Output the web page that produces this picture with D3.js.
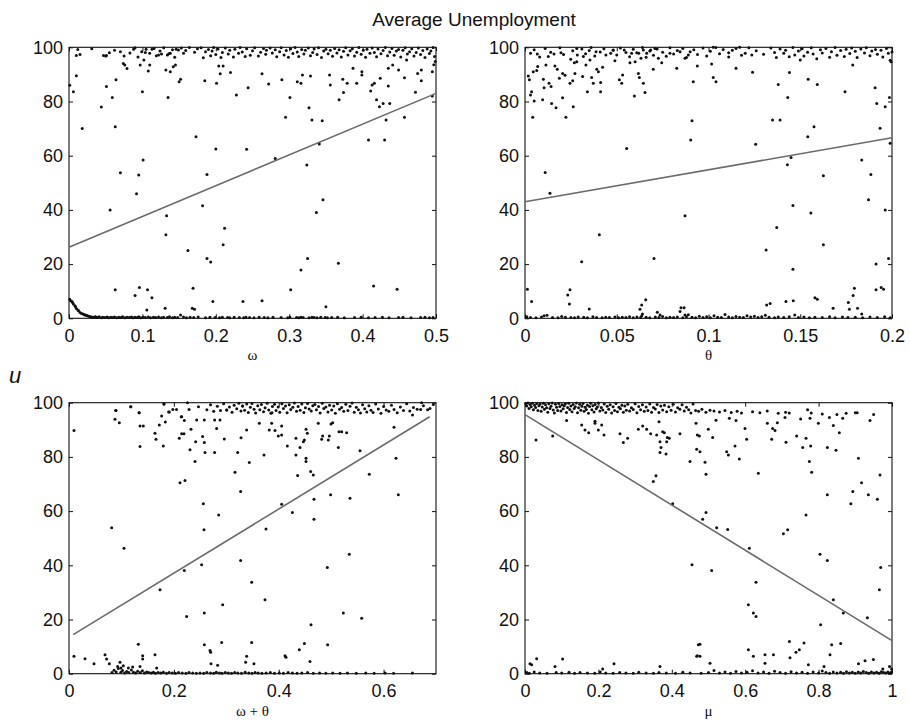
<!DOCTYPE html>
<html>
<head>
<meta charset="utf-8">
<script src="https://cdn.jsdelivr.net/npm/d3@7"></script>
<style>
  body { margin: 0; background: #fff; }
  svg { display: block; }
</style>
</head>
<body>
<svg id="fig" width="910" height="727"></svg>
<script>
// ---- tick values ----
const yTicks = [0, 20, 40, 60, 80, 100];
const omegaTicks = [0, 0.1, 0.2, 0.3, 0.4, 0.5];
const thetaTicks = [0, 0.05, 0.1, 0.15, 0.2];
const sumTicks = [0, 0.2, 0.4, 0.6];
const muTicks = [0, 0.2, 0.4, 0.6, 0.8, 1];

// ---- fitted lines: [x, u] at each end ----
const omegaFit = [[0, 26.2], [0.5, 83.0]];
const thetaFit = [[0, 43.0], [0.2, 66.6]];
const sumFit = [[0.008, 14.4], [0.688, 94.8]];
const muFit = [[0, 95.6], [1, 12.2]];

// ---- omega: [omega, u] ----
const omegaPts = [[0.001,86],[0.006,83.6],[0.01,89.5],[0.01,97],[0.015,97.3],[0.018,70],[0.044,78],[0.047,97],[0.051,97],[0.051,85.5],[0.055,98],[0.059,81.5],[0.063,70.7],[0.064,88],[0.056,40],[0.07,53.7],[0.07,98.4],[0.075,96.8],[0.076,93.5],[0.079,92.2],[0.074,94],[0.088,99.3],[0.097,93.5],[0.099,98.4],[0.1,83.6],[0.102,95.3],[0.105,99.3],[0.108,91.3],[0.11,97.8],[0.11,93.5],[0.113,99.3],[0.101,58.4],[0.095,52.9],[0.092,46],[0.122,97.2],[0.126,97.5],[0.132,91.6],[0.134,97.2],[0.135,81.5],[0.138,91],[0.138,97.8],[0.142,92.8],[0.145,93.5],[0.146,99.3],[0.149,99],[0.15,87.3],[0.152,88.2],[0.156,97.8],[0.133,37.8],[0.132,30.8],[0.162,25],[0.173,67],[0.182,41.5],[0.188,53.1],[0.188,22.1],[0.193,20.8],[0.2,62.5],[0.185,87.7],[0.201,86.7],[0.206,90.2],[0.21,93.1],[0.204,93.1],[0.212,33.2],[0.21,27.1],[0.196,6.2],[0.22,90.7],[0.228,82.4],[0.237,6.2],[0.242,62.4],[0.244,85.1],[0.263,90.2],[0.263,6.5],[0.272,86.5],[0.281,59],
  [0.063,10.5],[0.09,8.4],[0.096,11.4],[0.107,10.5],[0.113,7.6],[0.106,3.1],[0.131,3.7],[0.169,11.1],[0.168,3.7],[0.171,3.3],[0.152,1.2],
  [0.29,88],[0.295,74.2],[0.301,81.5],[0.302,10.5],[0.311,87.3],[0.316,86.7],[0.316,17.8],[0.318,89.8],[0.324,56.6],[0.325,22.1],[0.327,77.7],[0.329,89.4],[0.331,73.2],[0.337,39],[0.341,64.3],[0.345,72.9],[0.346,43.7],[0.35,4.3],[0.355,89.8],[0.356,86.1],[0.368,80.6],[0.367,20.3],[0.373,88.2],[0.374,83.3],[0.379,86.7],[0.387,92.3],[0.392,86.7],[0.399,91],[0.399,89.8],[0.408,65.8],[0.411,83.9],[0.413,86.1],[0.415,11.9],[0.416,86.7],[0.419,80.6],[0.423,78.1],[0.424,88.6],[0.428,79.3],[0.43,65.8],[0.432,73.2],[0.435,85.7],[0.435,92.3],[0.437,79.3],[0.441,93.5],[0.447,10.7],[0.449,91.6],[0.457,88.8],[0.457,74.2],[0.46,95.3],[0.472,83.4],[0.475,90.3],[0.48,91.6],[0.48,87.7],[0.495,91],[0.495,82]];
const omegaTop = [[0.012,99.2],[0.031,99.5],[0.05,96.8],[0.062,98.9],[0.083,97.9],[0.09,99.8],[0.094,96.4],[0.104,98.1],[0.116,99.6],[0.119,96.9],[0.124,98.6],[0.129,99.8],[0.136,97.6],[0.141,99.1],[0.144,96.3],[0.153,99.7],[0.159,98.8],[0.164,99.9],[0.171,98.2],[0.175,99.5],[0.18,99.8],[0.183,96.1],[0.186,98.4],[0.19,99.2],[0.193,96.9],[0.195,98.6],[0.197,99.9],[0.2,97.3],[0.203,99.4],[0.207,96.2],[0.209,98.1],[0.213,99.7],[0.217,97.5],[0.219,98.9],[0.224,96.4],[0.226,99.3],[0.231,97.8],[0.233,99.9],[0.236,98.3],[0.24,96.6],[0.242,99.5],[0.247,97.1],[0.25,98.7],[0.253,99.8],[0.258,96.8],[0.261,98.2],[0.265,99.6],[0.268,97.4],[0.269,98.9],[0.274,99.7],[0.277,97.9],[0.281,99.1],[0.283,96.5],[0.287,98.4],[0.289,99.8],[0.293,97.2],[0.296,98.8],[0.299,96.3],[0.302,99.5],[0.305,97.7],[0.308,99.9],[0.311,98.3],[0.313,96.6],[0.317,99.2],[0.32,97.5],[0.322,98.9],[0.326,99.7],[0.329,96.9],[0.332,98.1],[0.334,99.4],[0.338,97.3],[0.34,99.8],[0.344,96.2],[0.347,98.6],[0.35,99.3],[0.353,97.6],[0.356,98.9],[0.359,96.7],[0.362,99.6],[0.365,97.9],[0.368,99.1],[0.371,96.4],[0.374,98.5],[0.377,99.8],[0.38,97.2],[0.383,98.7],[0.386,99.5],[0.389,96.8],[0.392,98.2],[0.395,99.9],[0.398,97.4],[0.401,98.9],[0.404,96.3],[0.406,99.3],[0.41,97.8],[0.413,99.7],[0.416,98.1],[0.419,96.5],[0.421,99.4],[0.425,97.6],[0.428,98.8],[0.431,99.9],[0.434,96.9],[0.437,98.3],[0.44,99.6],[0.443,97.1],[0.446,98.6],[0.449,99.2],[0.452,96.4],[0.455,98.9],[0.458,99.8],[0.461,97.5],[0.464,98.4],[0.467,99.5],[0.47,96.8],[0.473,98.1],[0.476,99.7],[0.479,97.3],[0.482,98.8],[0.485,96.2],[0.488,99.4],[0.491,97.7],[0.493,98.6],[0.496,99.9],[0.498,96.6],[0.499,94.8],[0.497,93.6]];
const omegaCurve = [[0.001,7],[0.002,6.5],[0.004,6.2],[0.005,5.7],[0.006,5.3],[0.008,4.6],[0.009,4.3],[0.01,3.6],[0.012,3.1],[0.013,2.8],[0.015,2.1],[0.017,1.8],[0.019,1.6],[0.021,1.3],[0.022,1.2],[0.024,1.0],[0.025,0.9],[0.027,0.8],[0.029,0.6],[0.031,0.5],[0.033,0.4],[0.036,0.6],[0.038,0.3]];
const omegaLow = [[0.036,0.5],[0.039,0.3],[0.041,0.6],[0.044,0.2],[0.046,0.4],[0.049,0.3],[0.052,0.5],[0.054,0.2],[0.057,0.4],[0.06,0.3],[0.062,0.5],[0.065,0.2],[0.068,0.4],[0.071,0.3],[0.073,0.6],[0.076,0.2],[0.079,0.4],[0.082,0.3],[0.085,0.5],[0.087,0.2],[0.09,0.4],[0.093,0.3],[0.095,0.6],[0.098,0.2],[0.101,0.4],[0.104,0.3],[0.108,0.5],[0.111,0.2],[0.115,0.4],[0.118,0.3],[0.122,0.5],[0.126,0.2],[0.129,0.4],[0.134,0.3],[0.137,0.6],[0.141,0.2],[0.144,0.4],[0.148,0.3],[0.156,0.5],[0.16,0.2],[0.165,0.4],[0.17,0.3],[0.176,0.5],[0.186,0.2],[0.192,0.4],[0.199,0.3],[0.205,0.2],[0.209,0.4],[0.216,0.3],[0.219,0.2],[0.225,0.4],[0.232,0.3],[0.238,0.2],[0.241,0.4],[0.246,0.3],[0.252,0.2],[0.259,0.4],[0.266,0.3],[0.271,0.2],[0.278,0.4],[0.289,0.3],[0.298,0.2],[0.301,0.4],[0.31,0.3],[0.313,0.2],[0.316,0.4],[0.319,0.3],[0.327,0.2],[0.331,0.4],[0.334,0.3],[0.338,0.2],[0.343,0.4],[0.349,0.3],[0.352,0.2],[0.358,0.3],[0.366,0.4],[0.375,0.2],[0.389,0.3],[0.398,0.4],[0.408,0.2],[0.417,0.3],[0.427,0.4],[0.436,0.2],[0.449,0.3],[0.455,0.4],[0.466,0.2],[0.479,0.3],[0.485,0.4],[0.491,0.2],[0.496,0.3]];

// ---- theta: [theta, u] ----
const thetaPts = [[0.0018,89.4],[0.0024,88],[0.003,82.4],[0.0036,83.6],[0.0042,74.2],[0.0045,91],[0.005,80.2],[0.0064,91.4],[0.0067,97.5],[0.0069,92.9],[0.0096,80.6],[0.01,88.2],[0.0104,85.1],[0.011,53.8],[0.0114,93.5],[0.0127,96.6],[0.0131,86.7],[0.0136,46.1],[0.0142,85.5],[0.0145,79.3],[0.0158,97.5],[0.0163,93.1],[0.0169,77.7],[0.0176,91.9],[0.0187,88.6],[0.0196,98],[0.0205,81.4],[0.0205,90.3],[0.0218,89.7],[0.0223,74.2],[0.0245,86.7],[0.0249,95.6],[0.026,87.7],[0.0263,78.1],[0.0269,94.3],[0.0272,90.3],[0.0282,99.6],[0.0285,97.2],[0.0282,94.7],[0.0309,20.9],[0.0314,89.2],[0.0318,96.6],[0.0332,93.5],[0.034,83.6],[0.035,98.8],[0.0354,95.3],[0.0363,88.9],[0.0372,86.7],[0.0387,98.4],[0.0391,91.9],[0.04,91],[0.0405,30.8],[0.0412,83.6],[0.0412,87],[0.0423,92.6],[0.0441,97.2],[0.0467,97.8],[0.0481,99],[0.049,95],[0.0514,88],[0.0527,86.7],[0.0532,89.8],[0.0541,99],[0.0554,62.7],[0.0572,94.3],[0.0581,97.8],[0.0596,82],[0.06,94.7],[0.0609,98],[0.0618,90.3],[0.0623,88.9],[0.0632,96],[0.0645,99],[0.0645,86.7],[0.0654,83.3],[0.0663,97.8],[0.0685,99],[0.0699,91.9],[0.0703,22.1],[0.0708,99.6],[0.0727,96],[0.0745,94.3],[0.079,97.8],[0.0827,92.3],[0.0845,98.4],[0.0872,37.8],[0.0872,96],[0.089,97.2],[0.0903,65.8],[0.091,72.9],[0.0917,87.3],[0.0939,93.1],
  [0.0013,10.7],[0.0036,6.2],[0.0104,0.9],[0.0233,8.6],[0.0245,10.5],[0.0242,5.3],[0.035,3.4],[0.0627,3.3],[0.0636,4.9],[0.0658,6.8],[0.0721,2.2],[0.0736,1.2],[0.0845,2.5],[0.085,3.9],[0.0867,3.9],[0.0872,1.2],[0.0636,0.9],
  [0.1017,93.8],[0.1026,88.9],[0.1041,87.3],[0.1026,100],[0.111,98],[0.115,92.3],[0.117,100],[0.12,97.8],[0.124,90.8],[0.1257,64.2],[0.1236,97.2],[0.1314,25.2],[0.1317,4.9],[0.1336,5.5],[0.1349,73.2],[0.1372,33.5],[0.138,86.3],[0.139,73.2],[0.1422,6.2],[0.1432,81.5],[0.143,56.7],[0.1441,90.7],[0.145,59.3],[0.146,41.6],[0.146,18.1],[0.1462,6.5],[0.15,95.3],[0.1541,67],[0.1543,88.2],[0.1558,38.9],[0.1575,70.7],[0.158,7.6],[0.1593,7],[0.1593,86.3],[0.1626,52.6],[0.1626,27.1],[0.1679,3.7],[0.1744,83.6],[0.1762,5.8],[0.1768,3.3],[0.1788,8.4],[0.1795,11.1],[0.1786,93.5],[0.1812,3.7],[0.1835,58.4],[0.1835,1.6],[0.1872,43.7],[0.1885,53.1],[0.1908,85.1],[0.1913,20],[0.1913,10.5],[0.1917,79.3],[0.1935,70.1],[0.1941,11.4],[0.1954,10.7],[0.1963,78.1],[0.1963,40],[0.1986,81.5],[0.1981,22.1],[0.199,64.6],[0.1995,94.7]];
const thetaTop = [[0.003,97.8],[0.005,99.1],[0.008,96.4],[0.011,99.6],[0.014,98.2],[0.019,99.8],[0.021,97.3],[0.026,98.7],[0.031,99.4],[0.033,97.6],[0.036,99.9],[0.038,96.8],[0.041,98.3],[0.043,99.5],[0.048,98.9],[0.05,97.2],[0.052,99.7],[0.055,98.1],[0.057,96.5],[0.059,99.3],[0.062,97.8],[0.064,99.9],[0.066,96.3],[0.068,98.6],[0.07,97.1],[0.072,99.4],[0.075,98.2],[0.077,96.7],[0.079,99.8],[0.081,97.5],[0.083,98.8],[0.086,99.6],[0.088,96.2],[0.09,98.4],[0.092,99.1],[0.094,97.3],[0.097,99.7],[0.099,96.8],[0.101,98.5],[0.104,99.9],[0.106,97.6],[0.108,99.2],[0.111,96.4],[0.113,98.9],[0.115,99.6],[0.118,97.1],[0.122,99.8],[0.126,98.7],[0.13,97.4],[0.134,99.7],[0.136,98.1],[0.137,96.2],[0.139,99.4],[0.141,97.8],[0.142,98.9],[0.144,96.5],[0.146,99.9],[0.147,97.2],[0.149,98.6],[0.151,99.5],[0.152,96.8],[0.154,98.2],[0.156,99.8],[0.157,97.5],[0.159,95.8],[0.161,99.1],[0.162,97.9],[0.164,99.6],[0.166,96.3],[0.167,98.4],[0.169,99.9],[0.17,97.1],[0.172,98.8],[0.174,96.6],[0.175,99.3],[0.177,97.7],[0.178,99.7],[0.18,98.5],[0.181,96.2],[0.183,99.4],[0.185,97.9],[0.186,99.8],[0.188,96.9],[0.189,98.6],[0.191,99.2],[0.192,97.4],[0.194,98.9],[0.195,96.4],[0.197,99.6],[0.198,97.8],[0.199,95.2],[0.2,98.3]];
const thetaLow = [[0.001,0.6],[0.003,0.3],[0.006,0.2],[0.009,0.5],[0.012,1.1],[0.015,0.3],[0.018,0.2],[0.02,0.7],[0.022,0.4],[0.025,0.3],[0.027,0.2],[0.029,0.5],[0.032,0.4],[0.034,0.2],[0.037,0.6],[0.039,0.3],[0.042,0.2],[0.044,0.4],[0.046,0.3],[0.049,0.5],[0.051,0.2],[0.053,0.4],[0.055,0.3],[0.057,0.6],[0.059,0.2],[0.061,0.5],[0.063,0.3],[0.064,1.6],[0.066,0.4],[0.068,0.2],[0.071,0.5],[0.073,0.3],[0.075,0.7],[0.077,0.2],[0.079,0.4],[0.081,0.3],[0.083,0.5],[0.086,0.2],[0.088,0.6],[0.089,1.3],[0.091,0.4],[0.093,0.2],[0.095,0.8],[0.097,0.3],[0.099,0.6],[0.101,0.2],[0.103,0.9],[0.105,0.4],[0.107,0.3],[0.109,1.4],[0.111,0.5],[0.113,0.2],[0.115,0.7],[0.117,0.4],[0.119,0.3],[0.121,0.9],[0.123,0.5],[0.125,0.8],[0.127,0.3],[0.129,0.6],[0.131,1.1],[0.133,0.4],[0.136,0.2],[0.138,0.5],[0.141,0.3],[0.144,0.6],[0.147,1.2],[0.149,0.3],[0.152,0.5],[0.155,0.2],[0.158,0.4],[0.162,0.3],[0.166,0.6],[0.169,0.2],[0.173,0.5],[0.176,0.3],[0.18,0.4],[0.184,0.2],[0.188,0.5],[0.192,0.3],[0.196,0.6],[0.199,0.2]];

// ---- omega + theta: [omega+theta, u] ----
const sumPts = [[0.0095,89.7],[0.0095,6.4],[0.0305,5.5],[0.0477,3.7],[0.0687,7],[0.0718,5.4],[0.0769,3.7],[0.0814,53.9],[0.0877,93.9],[0.0896,97.1],[0.096,92.6],[0.0928,2.7],[0.0973,4.2],[0.0992,2.1],[0.1049,46.3],[0.1036,2.9],[0.1176,98.5],[0.1132,2.1],[0.1214,2.5],[0.1322,10.9],[0.1335,96.3],[0.1354,91.4],[0.1354,83.8],[0.1354,2.7],[0.1405,5.4],[0.1418,91.4],[0.1405,6.6],[0.164,7],[0.164,88.7],[0.1659,86.5],[0.1672,2.1],[0.1723,91.8],[0.1736,31],[0.1767,95.1],[0.1799,84],[0.1812,99.5],[0.1837,92.9],[0.1914,96.6],[0.2104,86.9],[0.2117,70.5],[0.2149,88.5],[0.2149,94.8],[0.2193,88.5],[0.22,38.1],[0.2212,71.3],[0.22,93.4],[0.2244,21.1],[0.2308,82.6],[0.2327,90.2],[0.2403,78.3],[0.2416,85.6],[0.2435,93.6],[0.253,40.2],[0.2549,87.5],[0.2562,62.7],[0.2575,53.1],[0.2581,22.4],[0.2581,10.7],[0.2581,85.3],[0.2594,81.6],[0.2581,93.6],[0.2689,8.6],[0.2702,7.9],[0.2708,3.7],[0.2778,81.6],[0.2778,93.6],[0.2816,90.5],[0.2835,3.1],[0.2855,58.6],[0.288,93.6],[0.2912,11.5],[0.2931,25.4],[0.2962,86.6],[0.3007,97.3],[0.3166,74.3],[0.3217,81.6],[0.3274,67.2],[0.3274,41.8],[0.3281,87.1],[0.3312,98.8],[0.3369,4.2],[0.3388,6.4],[0.3388,89.9],[0.3439,77.9],[0.3484,11.5],[0.3484,33.7],[0.3528,3.7],[0.363,92.4],[0.3719,80.7],[0.3738,27.3],[0.3757,53.4],[0.382,89.9],[0.3865,92.4],[0.3929,89.7],[0.3992,87.7],[0.3872,96.3],
  [0.4056,91.4],[0.4056,88.1],[0.4056,62.5],[0.412,6.6],[0.4138,6.1],[0.4164,84],[0.426,59.5],[0.4329,86.9],[0.4329,80.7],[0.4361,73.1],[0.4393,8.8],[0.4406,83.5],[0.447,85.6],[0.4489,86.2],[0.4489,11.1],[0.4521,79.5],[0.4521,78.3],[0.4521,90.2],[0.4546,88.7],[0.4597,4.5],[0.4616,18.1],[0.4609,74.6],[0.466,73.3],[0.4673,64.4],[0.4673,57],[0.4755,92.4],[0.4819,86.5],[0.4838,87.7],[0.4933,10.7],[0.4927,39.2],[0.4946,86.2],[0.4965,87.7],[0.499,66],[0.4997,92.1],[0.5029,92.6],[0.5137,83.5],[0.515,89.3],[0.5201,89.3],[0.5232,22.4],[0.5296,88.9],[0.5346,44.1],[0.5359,64.7],[0.5551,82.3],[0.5582,20.5],[0.5728,73.6],[0.6199,90.9],[0.6237,79.5],[0.6281,66],[0.6552,95.5],[0.6707,97.5],[0.6885,97.9],[0.6726,100]];
const sumTop = [[0.089,97.1],[0.118,98.5],[0.134,96.3],[0.181,99.5],[0.19,96.6],[0.198,97.5],[0.205,97.5],[0.214,94.8],[0.226,100],[0.229,97.5],[0.247,98.5],[0.263,97.4],[0.27,99.2],[0.276,96.8],[0.283,98.7],[0.289,97.1],[0.295,99.6],[0.301,97.3],[0.306,98.4],[0.311,96.5],[0.315,99.1],[0.32,97.8],[0.324,99.8],[0.328,96.9],[0.331,98.8],[0.335,97.2],[0.339,99.5],[0.342,96.4],[0.346,98.3],[0.349,99.7],[0.353,97.6],[0.356,96.2],[0.36,98.9],[0.364,97.4],[0.367,99.3],[0.371,96.7],[0.374,98.1],[0.378,99.8],[0.381,97.3],[0.385,96.1],[0.388,98.6],[0.392,99.4],[0.395,97.1],[0.399,98.4],[0.402,96.5],[0.406,99.6],[0.409,97.9],[0.413,98.8],[0.416,96.3],[0.42,99.2],[0.423,97.5],[0.427,98.3],[0.43,99.9],[0.434,96.8],[0.437,98.6],[0.441,97.2],[0.444,99.5],[0.448,96.4],[0.451,98.1],[0.455,99.7],[0.458,97.7],[0.462,96.9],[0.465,98.9],[0.469,99.3],[0.472,97.4],[0.476,98.6],[0.479,96.2],[0.483,99.8],[0.486,97.9],[0.49,98.4],[0.494,96.6],[0.497,99.1],[0.501,97.3],[0.505,98.8],[0.508,96.1],[0.512,99.6],[0.516,97.6],[0.52,98.2],[0.524,96.8],[0.528,99.4],[0.532,97.1],[0.536,98.7],[0.54,99.9],[0.544,96.5],[0.548,98.3],[0.552,97.4],[0.556,96.2],[0.56,99.2],[0.564,97.8],[0.568,96.6],[0.572,98.9],[0.576,97.2],[0.58,96.4],[0.585,99.5],[0.59,97.7],[0.595,96.1],[0.6,98.6],[0.605,97.3],[0.61,96.8],[0.615,99.1],[0.62,97.5],[0.626,96.3],[0.632,98.4],[0.638,97.1],[0.644,99.6],[0.65,96.9],[0.657,98.2],[0.664,97.6],[0.676,98.9],[0.684,97.4],[0.695,99.3]];
const sumLow = [[0.082,0.4],[0.086,1.3],[0.09,0.6],[0.094,1.9],[0.099,0.5],[0.102,1.2],[0.106,0.3],[0.11,0.8],[0.114,0.4],[0.119,1.4],[0.123,0.5],[0.127,0.3],[0.131,0.9],[0.136,0.4],[0.14,1.1],[0.144,0.3],[0.148,0.6],[0.152,0.4],[0.157,0.3],[0.161,0.5],[0.165,0.2],[0.17,0.4],[0.175,0.3],[0.18,0.5],[0.186,0.2],[0.191,0.4],[0.197,0.3],[0.203,0.2],[0.209,0.4],[0.216,0.3],[0.223,0.2],[0.229,0.4],[0.236,0.3],[0.243,0.2],[0.25,0.3],[0.257,0.2],[0.263,0.4],[0.27,0.3],[0.276,0.2],[0.281,0.5],[0.287,0.3],[0.292,0.2],[0.298,0.4],[0.304,0.3],[0.31,0.2],[0.316,0.4],[0.322,0.3],[0.329,0.2],[0.336,0.5],[0.343,0.3],[0.349,0.2],[0.355,0.4],[0.361,0.3],[0.368,0.2],[0.376,0.3],[0.384,0.4],[0.392,0.2],[0.401,0.3],[0.409,0.2],[0.418,0.4],[0.426,0.3],[0.435,0.2],[0.444,0.3],[0.455,0.4],[0.466,0.2],[0.478,0.3],[0.49,0.2],[0.503,0.3],[0.517,0.2],[0.531,0.3],[0.548,0.2],[0.566,0.3],[0.582,0.2],[0.603,0.3],[0.619,0.2],[0.655,0.3]];

// ---- mu: [mu, u] ----
const muPts = [[0.0136,3.7],[0.018,3.3],[0.0318,5.5],[0.03,86.2],[0.0754,87.7],[0.0817,2.7],[0.1026,5.4],[0.1135,93.4],[0.1544,91.8],[0.1635,89.9],[0.1735,88.9],[0.1907,93.2],[0.1907,92.4],[0.1998,89.9],[0.2089,91.8],[0.2153,88.1],[0.2116,1.7],[0.2425,3.7],[0.2589,88.5],[0.2679,85.3],[0.2797,86.9],[0.3088,90.2],[0.3206,91.4],[0.3315,90.2],[0.3424,88.5],[0.3497,70.9],[0.3569,73],[0.3588,88.1],[0.3651,93],[0.3678,85.6],[0.3706,83.5],[0.3678,81.6],[0.3678,2.7],[0.3751,89.3],[0.3796,88.9],[0.3842,81.1],[0.386,85.6],[0.3878,87.2],[0.3933,86.9],[0.4024,62.7],[0.4223,88.5],[0.4496,78.3],[0.455,40.2],[0.466,92.4],[0.4678,82.8],[0.4678,6.4],[0.4723,10.7],
  [0.4696,88.1],[0.4751,87.7],[0.4768,81.9],[0.4905,78],[0.4932,73.6],[0.4932,59.5],[0.4841,57],[0.5086,38.1],[0.5223,53.9],[0.5522,53.2],[0.4768,10.9],[0.4696,6.6],[0.4768,6.4],[0.5041,3.9],[0.4995,90.2],[0.5114,87.2],[0.5205,93.5],[0.5495,81.9],[0.5541,80.7],[0.5568,94.3],[0.5722,84],[0.5749,93.4],[0.584,79.2],[0.5995,90.5],[0.604,86.5],[0.6113,46.3],[0.6086,8.8],[0.6086,25.4],[0.6222,22.4],[0.6295,21.1],[0.6295,33.7],[0.6222,6.4],[0.6358,74],[0.654,7],[0.654,3.9],[0.6604,92.4],[0.6721,86.5],[0.6748,90.5],[0.677,7],[0.6812,89.7],[0.6876,92.6],[0.704,51.6],[0.7084,94.5],[0.7112,85.4],[0.7157,53.1],[0.7203,11.9],[0.7221,5.9],[0.7384,7.9],[0.7402,87.7],[0.7475,8.8],[0.7511,94],[0.7566,83.5],[0.7602,11.3],[0.7657,86.9],[0.7657,58.6],[0.7748,78.3],[0.7766,94.3],[0.7784,84],[0.7811,74.3],[0.7721,3.3],[0.7993,92.4],[0.8038,44.1],[0.8056,18.1],[0.8147,2.7],[0.8238,83.5],[0.8238,66],[0.8238,41.8],[0.8293,94.5],[0.8311,7],[0.8356,10.7],[0.8401,27.3],[0.8401,91.6],[0.8474,82.5],[0.8565,88.9],[0.8601,11.1],[0.8656,94.3],[0.8674,22.4],[0.8878,62.7],[0.8932,67.2],[0.9087,79.5],[0.9087,3.7],[0.917,70.5],[0.9265,4.8],[0.9329,20.6],[0.9356,66],[0.9401,93.4],[0.9492,5.2],[0.9601,64.4],[0.9655,31],[0.9673,73.3],[0.9692,39.2],[0.975,1.7],[0.9932,2.7]];
const muTop = [[0.002,99.6],[0.005,98.8],[0.008,99.9],[0.011,97.9],[0.014,99.3],[0.017,98.5],[0.02,99.8],[0.023,97.4],[0.026,99.1],[0.029,98.2],[0.032,99.7],[0.035,97.1],[0.038,98.9],[0.041,99.5],[0.044,96.8],[0.047,98.4],[0.05,99.8],[0.053,97.6],[0.056,99.2],[0.059,98.1],[0.062,96.5],[0.065,99.6],[0.068,97.9],[0.071,98.7],[0.074,99.9],[0.077,97.3],[0.08,96.2],[0.083,99.4],[0.086,98.3],[0.089,97.1],[0.092,99.7],[0.095,98.6],[0.098,96.9],[0.101,99.2],[0.104,97.8],[0.107,98.9],[0.11,99.6],[0.113,96.4],[0.116,98.2],[0.119,99.8],[0.122,97.5],[0.125,98.8],[0.128,96.7],[0.131,99.3],[0.134,97.9],[0.137,98.5],[0.14,99.9],[0.143,96.3],[0.146,98.1],[0.149,99.4],[0.152,97.2],[0.155,98.7],[0.158,99.7],[0.161,96.8],[0.164,98.3],[0.167,97.5],[0.17,99.1],[0.173,96.1],[0.176,98.6],[0.179,99.8],[0.182,97.4],[0.185,98.9],[0.188,96.6],[0.191,99.3],[0.194,97.8],[0.197,98.4],[0.2,99.9],[0.204,96.9],[0.208,98.2],[0.212,97.3],[0.216,99.5],[0.22,96.4],[0.224,98.7],[0.228,97.6],[0.232,99.2],[0.236,96.2],[0.24,98.5],[0.244,97.1],[0.248,99.7],[0.252,96.7],[0.256,98.3],[0.26,97.8],[0.264,99.1],[0.268,96.5],[0.272,98.8],[0.276,97.2],[0.28,99.4],[0.285,96.9],[0.29,98.1],[0.295,97.5],[0.3,99.6],[0.305,96.3],[0.31,98.6],[0.315,97.4],[0.32,99.2],[0.325,96.8],[0.33,98.4],[0.335,97.1],[0.34,99.5],[0.345,96.5],[0.35,98.2],[0.355,97.7],[0.36,99.3],[0.365,96.4],[0.37,98.8],[0.375,97.3],[0.38,99.1],[0.386,96.7],[0.392,98.5],[0.398,97.2],[0.404,99.4],[0.41,96.6],[0.416,98.1],[0.422,97.6],[0.428,99.2],[0.434,96.9],[0.44,98.3],[0.446,97.4],[0.452,96.2],[0.458,99.5],[0.465,97.1],[0.473,96.8],[0.482,97.6],[0.493,96.5],[0.504,97.2],[0.515,96.9],[0.53,96.6],[0.545,97.1],[0.562,96.4],[0.578,96.8],[0.59,96.2],[0.62,96.7],[0.64,96.3],[0.66,96.9],[0.69,96.1],[0.71,96.5],[0.72,96.2],[0.77,97.4],[0.78,96.2],[0.81,95.8],[0.85,95.6],[0.875,96.1],[0.9,96.3],[0.905,96.3],[0.95,95.6]];
const muLow = [[0.005,0.4],[0.012,0.2],[0.025,0.6],[0.04,0.3],[0.06,0.2],[0.085,0.4],[0.1,0.3],[0.12,0.5],[0.135,0.2],[0.15,0.4],[0.17,0.3],[0.19,0.2],[0.205,0.6],[0.22,0.3],[0.24,0.2],[0.258,0.4],[0.275,0.3],[0.295,0.2],[0.31,0.5],[0.33,0.3],[0.35,0.2],[0.365,0.4],[0.385,0.3],[0.41,0.2],[0.43,0.5],[0.45,0.3],[0.48,0.2],[0.5,0.4],[0.515,1.2],[0.53,0.3],[0.545,0.6],[0.56,0.2],[0.575,0.8],[0.59,0.3],[0.605,0.5],[0.62,1.1],[0.635,0.3],[0.65,0.6],[0.665,0.2],[0.68,0.9],[0.695,0.4],[0.71,0.2],[0.725,0.7],[0.74,0.3],[0.755,0.5],[0.77,0.2],[0.785,0.6],[0.8,0.3],[0.81,1.0],[0.82,0.4],[0.83,0.2],[0.84,0.6],[0.85,0.3],[0.86,0.5],[0.868,0.2],[0.876,0.7],[0.884,0.3],[0.892,0.5],[0.9,0.2],[0.908,0.6],[0.915,0.3],[0.922,0.8],[0.93,0.4],[0.937,0.2],[0.944,0.6],[0.951,0.3],[0.958,0.5],[0.965,0.2],[0.971,0.7],[0.977,0.4],[0.983,0.3],[0.989,0.6],[0.994,0.2],[0.998,0.5],[0.999,1.7]];

// ---- figure layout ----
const plotW = 367, plotH = 271;
const panels = [
  { sets: [omegaPts, omegaTop, omegaCurve, omegaLow], fit: omegaFit, domain: [0, 0.5], ticks: omegaTicks, label: "ω", left: 69, top: 47.3 },
  { sets: [thetaPts, thetaTop, thetaLow], fit: thetaFit, domain: [0, 0.2], ticks: thetaTicks, label: "θ", left: 525, top: 47.3 },
  { sets: [sumPts, sumTop, sumLow], fit: sumFit, domain: [0, 0.7], ticks: sumTicks, label: "ω + θ", left: 69, top: 402.7 },
  { sets: [muPts, muTop, muLow], fit: muFit, domain: [0, 1], ticks: muTicks, label: "μ", left: 525, top: 402.7 }
];

const svg = d3.select("#fig");
const sans = "'Liberation Sans', Arial, Helvetica, sans-serif";
const serif = "'Liberation Serif', 'Times New Roman', serif";

svg.append("text")
  .attr("x", 474).attr("y", 26)
  .attr("text-anchor", "middle")
  .attr("font-family", sans).attr("font-size", 19)
  .attr("fill", "#111")
  .text("Average Unemployment");

svg.append("text")
  .attr("x", 9).attr("y", 383)
  .attr("font-family", sans).attr("font-size", 22).attr("font-style", "italic")
  .attr("fill", "#111")
  .text("u");

panels.forEach(p => {
  const x = d3.scaleLinear().domain(p.domain).range([0, plotW]);
  const y = d3.scaleLinear().domain([0, 100]).range([plotH, 0]);
  const g = svg.append("g").attr("transform", `translate(${p.left},${p.top})`);

  // frame ticks on all four sides, pointing inward
  const fmt = d => String(d);
  const styleAxis = sel => {
    sel.select(".domain").remove();
    sel.selectAll(".tick line").attr("stroke", "#111").attr("stroke-width", 1);
    sel.selectAll(".tick text").attr("fill", "#111").attr("font-family", sans).attr("font-size", 18);
  };
  g.append("g").attr("transform", `translate(0,${plotH})`)
    .call(d3.axisBottom(x).tickValues(p.ticks).tickFormat(fmt).tickSize(-4).tickSizeOuter(0).tickPadding(11))
    .call(styleAxis);
  g.append("g")
    .call(d3.axisTop(x).tickValues(p.ticks).tickFormat("").tickSize(-4).tickSizeOuter(0))
    .call(styleAxis);
  g.append("g")
    .call(d3.axisLeft(y).tickValues(yTicks).tickFormat(fmt).tickSize(-4).tickSizeOuter(0).tickPadding(6))
    .call(styleAxis);
  g.append("g").attr("transform", `translate(${plotW},0)`)
    .call(d3.axisRight(y).tickValues(yTicks).tickFormat("").tickSize(-4).tickSizeOuter(0))
    .call(styleAxis);

  g.append("rect")
    .attr("width", plotW).attr("height", plotH)
    .attr("fill", "none").attr("stroke", "#111").attr("stroke-width", 1.1);

  // simulation results
  const pts = [].concat(...p.sets);
  g.append("g").selectAll("circle").data(pts).join("circle")
    .attr("cx", d => x(d[0]))
    .attr("cy", d => y(d[1]))
    .attr("r", 1.5)
    .attr("fill", "#111");

  // least-squares line
  g.append("path")
    .datum(p.fit)
    .attr("d", d3.line().x(d => x(d[0])).y(d => y(d[1])))
    .attr("fill", "none")
    .attr("stroke", "#6b6b6b")
    .attr("stroke-width", 1.6);

  // axis label
  g.append("text")
    .attr("x", plotW / 2).attr("y", plotH + 42)
    .attr("text-anchor", "middle")
    .attr("font-family", serif).attr("font-size", 15)
    .attr("fill", "#111")
    .text(p.label);
});
</script>
</body>
</html>
